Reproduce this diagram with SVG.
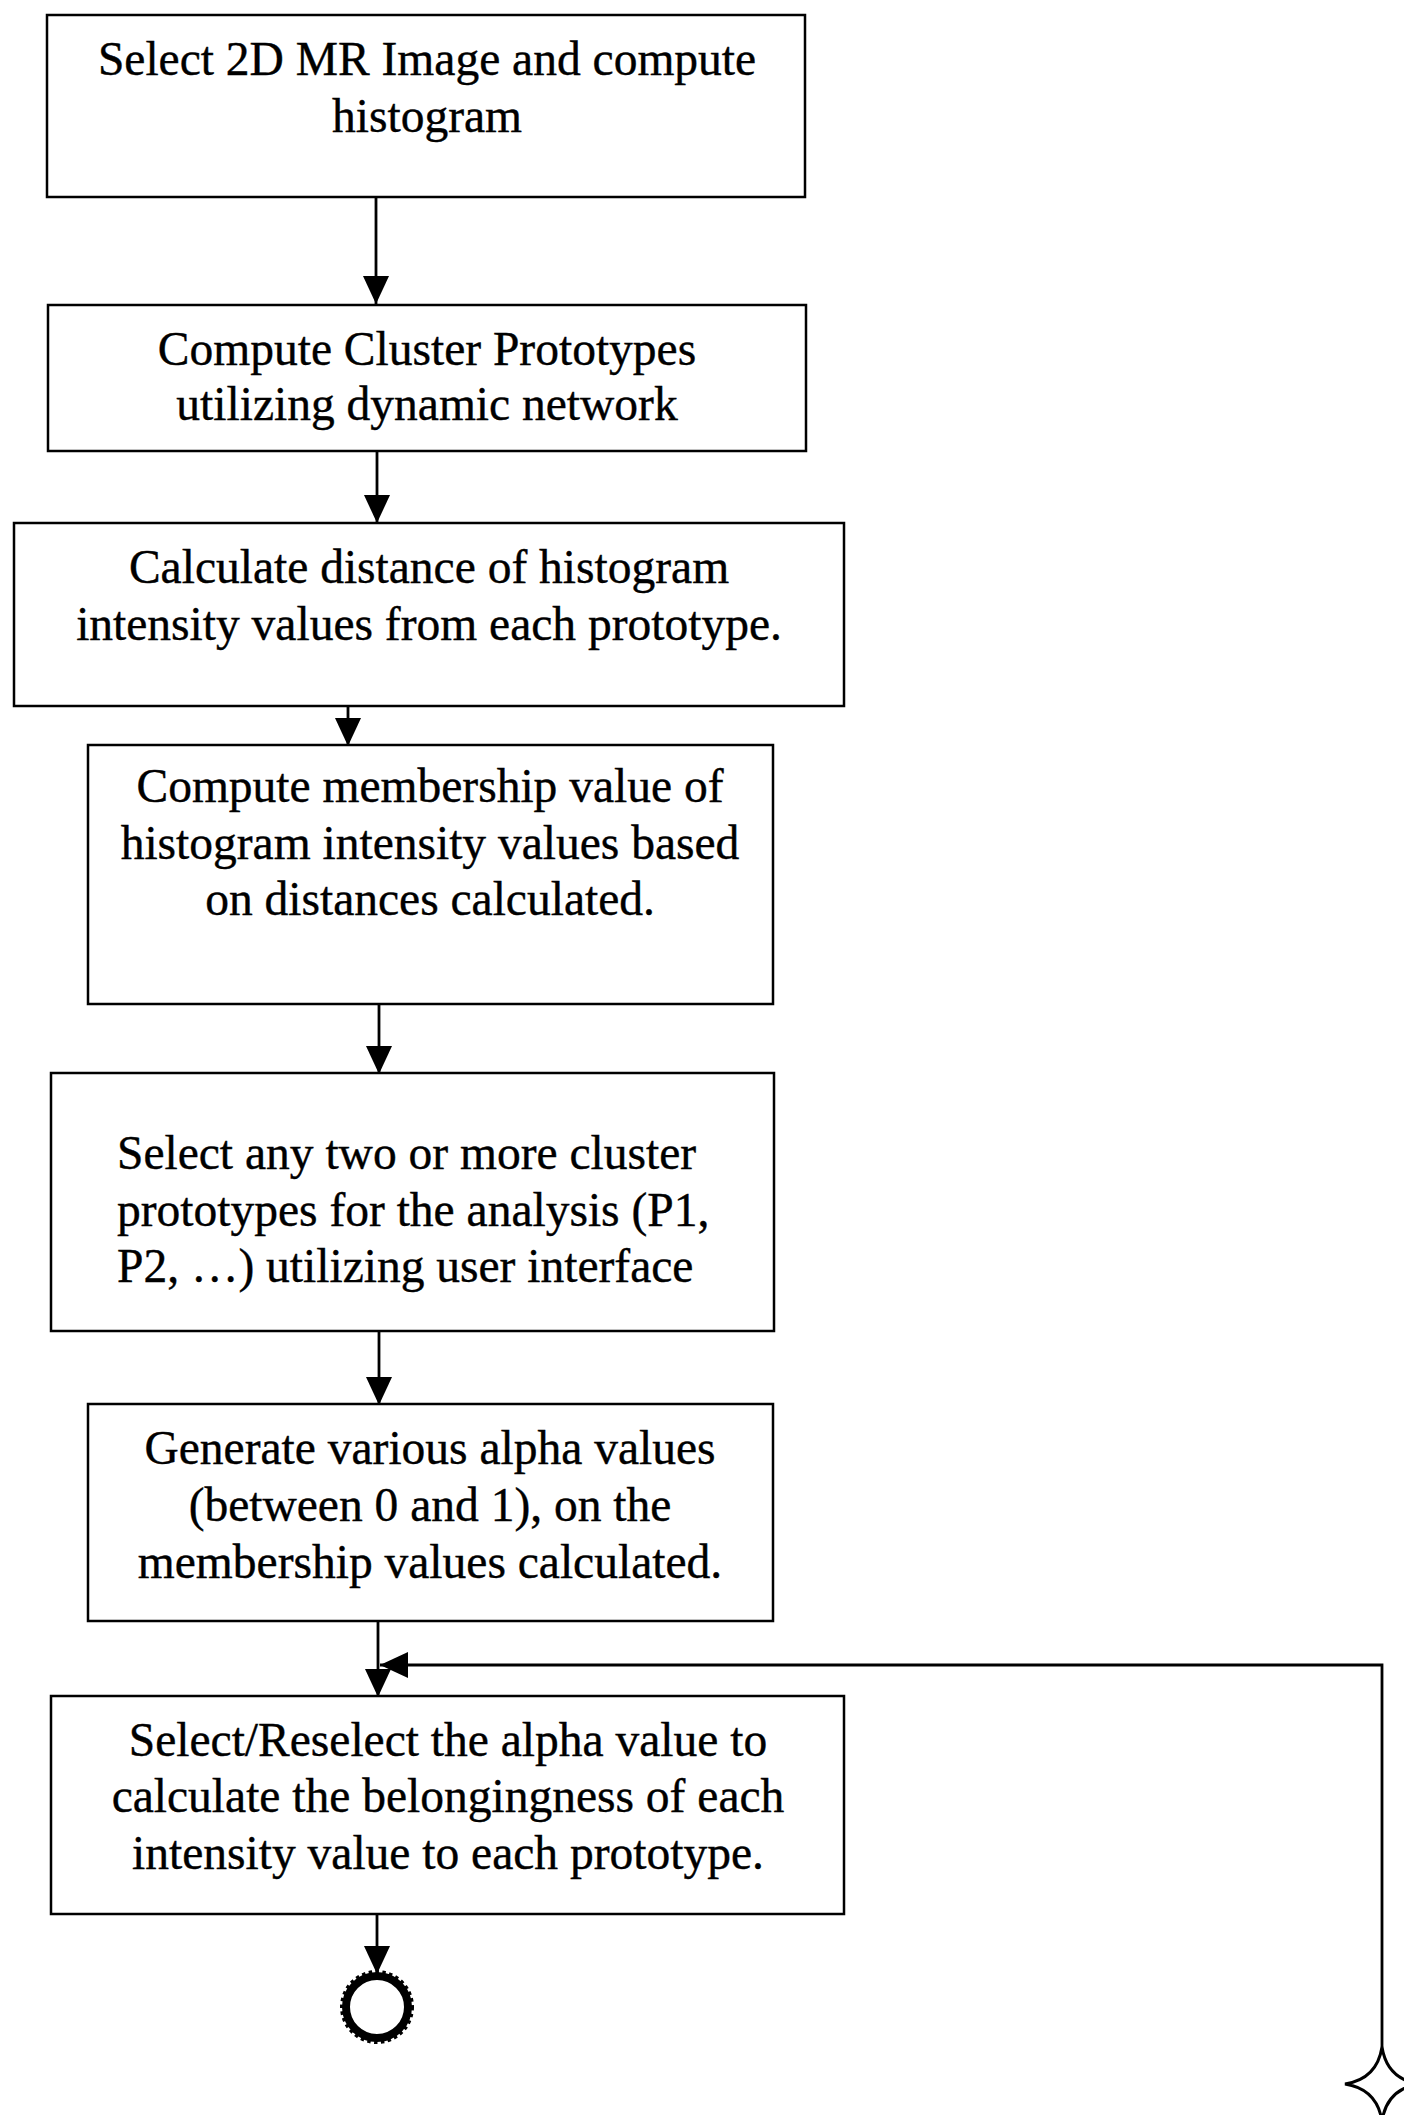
<svg xmlns="http://www.w3.org/2000/svg" width="1404" height="2115" viewBox="0 0 1404 2115">
<style>
.box{fill:#fff;stroke:#000;stroke-width:2.5}
.t{font-family:"Liberation Serif","Times New Roman",serif;font-size:47.5px;fill:#000;stroke:#000;stroke-width:0.4;text-anchor:middle}
.l{text-anchor:start}
.c{fill:none;stroke:#000;stroke-width:2.8}
</style>
<defs>
<marker id="ah" markerUnits="userSpaceOnUse" markerWidth="30" markerHeight="26" refX="28" refY="13" orient="auto">
<path d="M0,0 L28,13 L0,26 Z" fill="#000"/>
</marker>
</defs>
<rect width="1404" height="2115" fill="#fff"/>
<g id="connectors">
<line class="c" x1="376" y1="196" x2="376" y2="304" marker-end="url(#ah)"/>
<line class="c" x1="377" y1="451" x2="377" y2="523" marker-end="url(#ah)"/>
<line class="c" x1="348" y1="706" x2="348" y2="746" marker-end="url(#ah)"/>
<line class="c" x1="379" y1="1004" x2="379" y2="1074" marker-end="url(#ah)"/>
<line class="c" x1="379" y1="1331" x2="379" y2="1405" marker-end="url(#ah)"/>
<line class="c" x1="378" y1="1621" x2="378" y2="1697" marker-end="url(#ah)"/>
<polyline class="c" points="1382,2047 1382,1665 380,1665" marker-end="url(#ah)"/>
<line class="c" x1="377" y1="1902" x2="377" y2="1974" marker-end="url(#ah)"/>
</g>
<g id="n1"><rect class="box" x="47" y="15" width="758" height="182"/>
<text class="t" x="427" y="75">Select 2D MR Image and compute</text>
<text class="t" x="427" y="132">histogram</text></g>
<g id="n2"><rect class="box" x="48" y="305" width="758" height="146"/>
<text class="t" x="427" y="365">Compute Cluster Prototypes</text>
<text class="t" x="427" y="420">utilizing dynamic network</text></g>
<g id="n3"><rect class="box" x="14" y="523" width="830" height="183"/>
<text class="t" x="429" y="583">Calculate distance of histogram</text>
<text class="t" x="429" y="640">intensity values from each prototype.</text></g>
<g id="n4"><rect class="box" x="88" y="745" width="685" height="259"/>
<text class="t" x="430" y="802">Compute membership value of</text>
<text class="t" x="430" y="859">histogram intensity values based</text>
<text class="t" x="430" y="915">on distances calculated.</text></g>
<g id="n5"><rect class="box" x="51" y="1073" width="723" height="258"/>
<text class="t l" x="117" y="1169">Select any two or more cluster</text>
<text class="t l" x="117" y="1226">prototypes for the analysis (P1,</text>
<text class="t l" x="117" y="1282">P2, …) utilizing user interface</text></g>
<g id="n6"><rect class="box" x="88" y="1404" width="685" height="217"/>
<text class="t" x="430" y="1464">Generate various alpha values</text>
<text class="t" x="430" y="1521">(between 0 and 1), on the</text>
<text class="t" x="430" y="1578">membership values calculated.</text></g>
<g id="n7"><rect class="box" x="51" y="1696" width="793" height="218"/>
<text class="t" x="448" y="1756">Select/Reselect the alpha value to</text>
<text class="t" x="448" y="1812">calculate the belongingness of each</text>
<text class="t" x="448" y="1869">intensity value to each prototype.</text></g>
<g id="end-connector">
<circle cx="377" cy="2007" r="31" fill="#fff" stroke="#000" stroke-width="8"/>
<circle cx="377" cy="2007" r="35" fill="none" stroke="#000" stroke-width="4" stroke-dasharray="3.4 3.4"/>
</g>
<g id="start-connector">
<path d="M1382,2047 Q1387,2079 1419,2084 Q1387,2089 1382,2121 Q1377,2089 1345,2084 Q1377,2079 1382,2047 Z" fill="#fff" stroke="#000" stroke-width="3"/>
</g>
</svg>
